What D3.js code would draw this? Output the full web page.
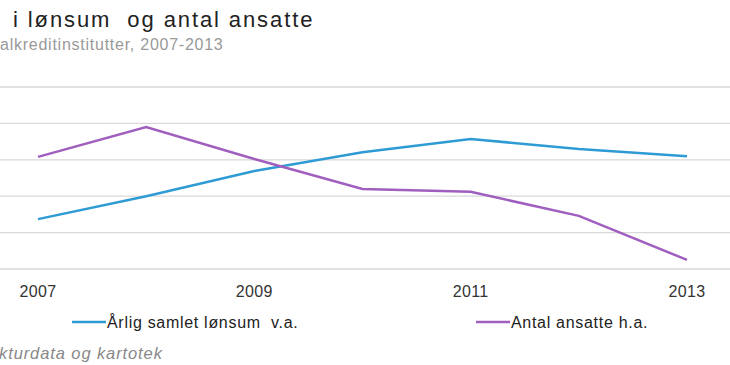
<!DOCTYPE html>
<html>
<head>
<meta charset="utf-8">
<script src="https://cdn.jsdelivr.net/npm/d3@7"></script>
<style>
  body { margin: 0; background: #fff; }
  text { font-family: "Liberation Sans", Arial, sans-serif; white-space: pre; }
</style>
</head>
<body>
<svg id="chart" width="730" height="365"></svg>
<script>
// data (index values, left and right axis share the grid)
var years = [2007, 2008, 2009, 2010, 2011, 2012, 2013];
var lonsum = [1.37, 2.0, 2.69, 3.21, 3.57, 3.30, 3.10];
var ansatte = [3.08, 3.90, 3.02, 2.20, 2.12, 1.46, 0.25];
var gridTicks = [0, 1, 2, 3, 4, 5];
var yearLabels = [2007, 2009, 2011, 2013];

var svg = d3.select("#chart"),
  width = +svg.attr("width"),
  blue = "#2f9bd5",
  purple = "#a05fbf";

var x = d3.scaleLinear().domain([2007, 2013]).range([38, 687]);
var yL = d3.scaleLinear().domain([0, 5]).range([269, 87]);
var yR = d3.scaleLinear().domain([0, 5]).range([269, 87]);

// grid
svg.append("g")
  .selectAll("line")
  .data(gridTicks)
  .enter().append("line")
  .attr("x1", 0).attr("x2", width)
  .attr("y1", function(d) { return yL(d); })
  .attr("y2", function(d) { return yL(d); })
  .attr("stroke", "#d9d9d9")
  .attr("stroke-width", 1.3);

// x labels
svg.append("g")
  .selectAll("text")
  .data(yearLabels)
  .enter().append("text")
  .attr("x", function(d) { return x(d); })
  .attr("y", 297)
  .attr("text-anchor", "middle")
  .attr("font-size", 16)
  .attr("letter-spacing", 0.4)
  .attr("fill", "#333")
  .text(function(d) { return d; });

var lineL = d3.line()
  .x(function(d, i) { return x(years[i]); })
  .y(function(d) { return yL(d); });
var lineR = d3.line()
  .x(function(d, i) { return x(years[i]); })
  .y(function(d) { return yR(d); });

svg.append("path").datum(lonsum)
  .attr("d", lineL).attr("fill", "none")
  .attr("stroke", blue).attr("stroke-width", 2.5);
svg.append("path").datum(ansatte)
  .attr("d", lineR).attr("fill", "none")
  .attr("stroke", purple).attr("stroke-width", 2.5);

// title & subtitle (cropped in the original)
svg.append("text").attr("x", 13).attr("y", 27)
  .attr("font-size", 22).attr("letter-spacing", 1.9).attr("fill", "#222")
  .text("i lønsum  og antal ansatte");
svg.append("text").attr("x", 0).attr("y", 50)
  .attr("font-size", 16).attr("letter-spacing", 0.75).attr("fill", "#999")
  .text("alkreditinstitutter, 2007-2013");

// legend
var legend = [
  {name: "Årlig samlet lønsum  v.a.", color: blue, x: 72},
  {name: "Antal ansatte h.a.", color: purple, x: 476}
];
var lg = svg.append("g").selectAll("g").data(legend).enter().append("g");
lg.append("line")
  .attr("x1", function(d) { return d.x; })
  .attr("x2", function(d) { return d.x + 34; })
  .attr("y1", 322).attr("y2", 322)
  .attr("stroke", function(d) { return d.color; })
  .attr("stroke-width", 2.5);
lg.append("text")
  .attr("x", function(d) { return d.x + 35; })
  .attr("y", 328)
  .attr("font-size", 16).attr("letter-spacing", 0.7).attr("fill", "#222")
  .text(function(d) { return d.name; });

// source
svg.append("text").attr("x", -1).attr("y", 359)
  .attr("font-size", 16.5).attr("letter-spacing", 0.9)
  .attr("font-style", "italic").attr("fill", "#888")
  .text("kturdata og kartotek");
</script>
</body>
</html>
